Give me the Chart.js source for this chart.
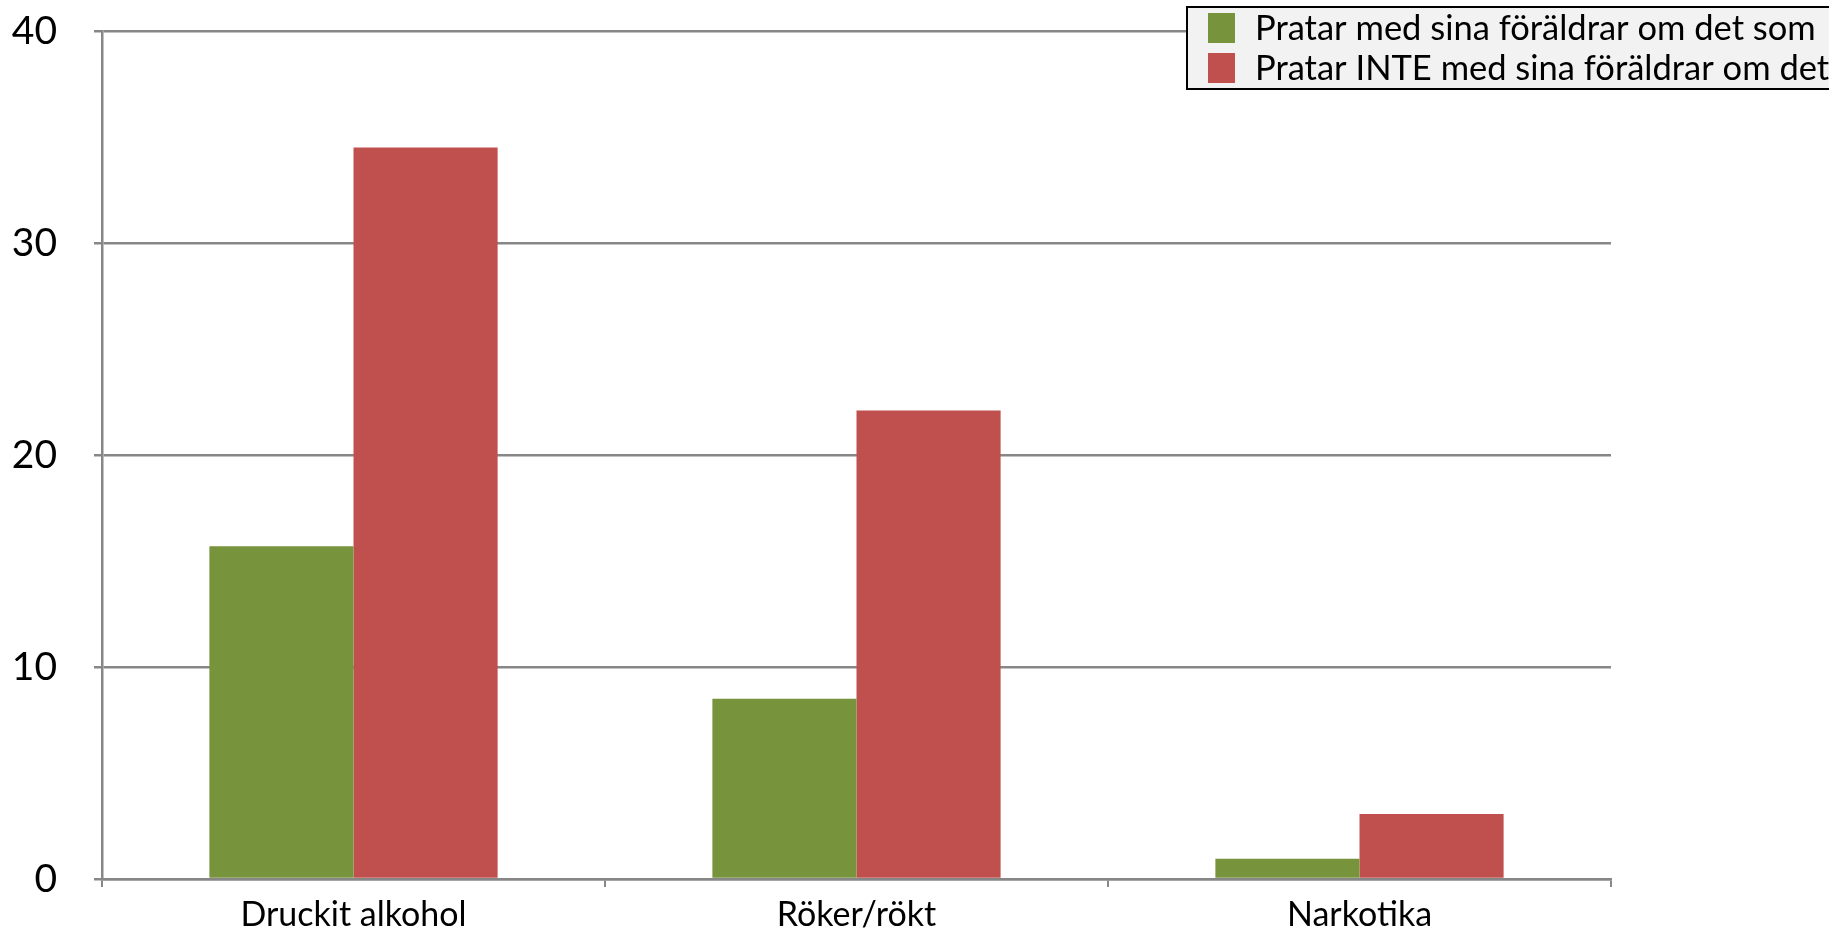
<!DOCTYPE html>
<html>
<head>
<meta charset="utf-8">
<script src="https://cdn.jsdelivr.net/npm/chart.js@4/dist/chart.umd.min.js"></script>
<style>
  html, body { margin: 0; padding: 0; background: #ffffff; }
  #wrap { width: 1829px; height: 934px; }
</style>
</head>
<body>
<div id="wrap"><canvas id="chart" width="1829" height="934"></canvas></div>
<script>
// data
var categories = ['Druckit alkohol', 'Röker/rökt', 'Narkotika'];
var seriesNames = ['Pratar med sina föräldrar om det som', 'Pratar INTE med sina föräldrar om det'];
var pratarMed = [15.7, 8.5, 0.95];
var pratarInte = [34.5, 22.1, 3.07];
var yTicks = [0, 10, 20, 30, 40];

var colors = ['#77933C', '#C0504D'];
var gridGray = '#878787';

// legend box drawn by hand, top right, running off the canvas edge
var boxLegend = {
  id: 'boxLegend',
  afterDraw: function(chart) {
    var ctx = chart.ctx;
    var datasets = chart.data.datasets;
    ctx.save();
    ctx.fillStyle = '#f2f2f2';
    ctx.fillRect(1187, 7, 700, 82);
    ctx.strokeStyle = '#000000';
    ctx.lineWidth = 2;
    ctx.strokeRect(1187, 7, 700, 82);
    ctx.font = '34.5px Lato';
    ctx.textBaseline = 'middle';
    ctx.textAlign = 'left';
    for (var i = 0; i < datasets.length; i++) {
      var cy = 28 + i * 40;
      ctx.fillStyle = datasets[i].backgroundColor;
      ctx.fillRect(1208, cy - 15, 27, 30);
      ctx.fillStyle = '#000000';
      ctx.fillText(datasets[i].label, 1255, cy + 1);
    }
    ctx.restore();
  }
};

var ctx = document.getElementById('chart').getContext('2d');
var chart = new Chart(ctx, {
  type: 'bar',
  data: {
    labels: categories,
    datasets: [
      { label: seriesNames[0], data: pratarMed, backgroundColor: colors[0], borderWidth: 0 },
      { label: seriesNames[1], data: pratarInte, backgroundColor: colors[1], borderWidth: 0 }
    ]
  },
  options: {
    responsive: false,
    animation: false,
    layout: { padding: { left: 0, right: 218, top: 31, bottom: 0 } },
    plugins: {
      legend: { display: false },
      tooltip: { enabled: false }
    },
    datasets: {
      bar: { categoryPercentage: 0.573, barPercentage: 1.0 }
    },
    scales: {
      x: {
        grid: {
          display: true,
          drawOnChartArea: false,
          drawTicks: true,
          tickLength: 8,
          color: gridGray,
          lineWidth: 2
        },
        border: { display: true, color: gridGray, width: 2.5 },
        ticks: {
          color: '#000000',
          font: { family: 'Lato', size: 34 },
          padding: 8,
          maxRotation: 0
        },
        afterFit: function(scale) { scale.height = 55; }
      },
      y: {
        min: 0,
        max: 40,
        afterBuildTicks: function(scale) {
          scale.ticks = yTicks.map(function(v) { return { value: v }; });
        },
        grid: {
          color: gridGray,
          lineWidth: 2.5,
          drawTicks: true,
          tickLength: 8
        },
        border: { display: true, color: gridGray, width: 2.5 },
        ticks: {
          color: '#000000',
          font: { family: 'Lato', size: 39 },
          padding: 37
        },
        afterFit: function(scale) {
          scale.width = 102;
          scale.paddingTop = 0;
          scale.paddingBottom = 0;
        }
      }
    }
  },
  plugins: [boxLegend]
});
</script>
</body>
</html>
